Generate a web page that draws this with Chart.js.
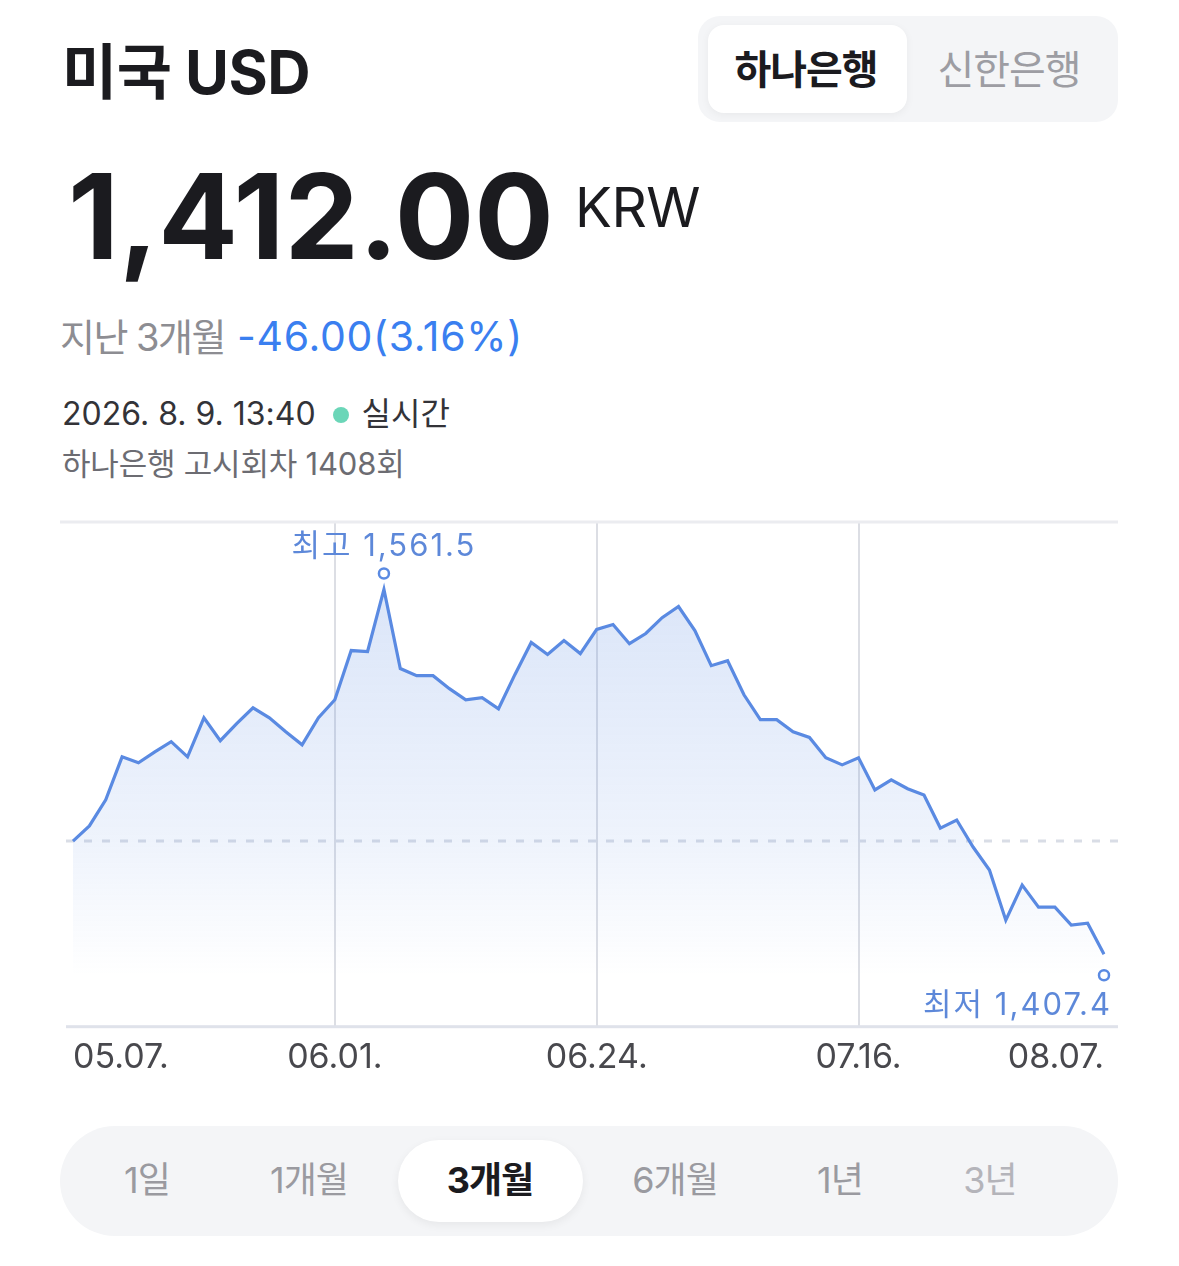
<!DOCTYPE html>
<html lang="ko">
<head>
<meta charset="utf-8">
<script src="https://cdn.jsdelivr.net/npm/chart.js@4.4.1/dist/chart.umd.min.js"></script>
<style>
  html, body { margin:0; padding:0; background:#fff; }
  body { width:1179px; height:1266px; position:relative; overflow:hidden;
         font-family: Inter, "Noto Sans CJK KR", "Noto Sans", sans-serif; }
  .abs { position:absolute; white-space:nowrap; }
  #title { left:62px; top:36px; font-size:60px; font-weight:700; color:#1b1b1f; letter-spacing:-0.5px; line-height:72px; }
  #price { left:68px; top:146px; font-size:118px; font-weight:700; color:#1b1b1f; letter-spacing:0px; line-height:140px; }
  #krw { left:575px; top:174px; font-size:55px; font-weight:400; color:#1b1b1f; letter-spacing:-0.5px; line-height:66px; }
  #change { left:60px; top:311px; line-height:50px; }
  #change .lbl { color:#8d8d92; font-size:38px; letter-spacing:-1.5px; }
  #change .val { color:#3a7ff0; margin-left:12px; font-size:41px; letter-spacing:0.7px; }
  #time { left:62px; top:393px; font-size:32px; line-height:42px; color:#333338; letter-spacing:0px; }
  #time .dot { display:inline-block; width:16px; height:16px; border-radius:50%; background:#6bd6b8; margin:0 13px 3px 17px; vertical-align:middle; }
  #notice { left:62px; top:444px; font-size:31px; line-height:40px; color:#6c6c72; letter-spacing:-0.2px; }
  #toggle { left:698px; top:16px; width:420px; height:106px; border-radius:22px; background:#f4f5f7; }
  #toggleSel { left:708px; top:25px; width:199px; height:88px; border-radius:16px; background:#fff; box-shadow:0 2px 8px rgba(0,0,0,0.05); }
  .tg { top:44px; font-size:40px; line-height:52px; letter-spacing:-1px; transform:translateX(-50%); }
  #chartBox { left:60px; top:500px; width:1058px; height:590px; }
  #tabs { left:60px; top:1126px; width:1058px; height:110px; border-radius:55px; background:#f4f5f7; }
  #tabSel { left:398px; top:1140px; width:185px; height:82px; border-radius:41px; background:#fff; box-shadow:0 3px 10px rgba(0,0,0,0.06); }
  .tab { top:1156px; font-size:36px; line-height:48px; color:#9a9aa0; transform:translateX(-50%); letter-spacing:-1px; }
</style>
</head>
<body>
<div class="abs" id="title">미국 USD</div>
<div class="abs" id="toggle"></div>
<div class="abs" id="toggleSel"></div>
<div class="abs tg" style="left:806px;font-weight:700;color:#1b1b1f;">하나은행</div>
<div class="abs tg" style="left:1009px;color:#9d9da3;">신한은행</div>

<div class="abs" id="price">1,412.00</div>
<div class="abs" id="krw">KRW</div>
<div class="abs" id="change"><span class="lbl">지난 3개월</span><span class="val">-46.00(3.16%)</span></div>
<div class="abs" id="time">2026. 8. 9. 13:40<span class="dot"></span>실시간</div>
<div class="abs" id="notice">하나은행 고시회차 1408회</div>

<div class="abs" id="chartBox"><canvas id="c"></canvas></div>

<div class="abs" id="tabs"></div>
<div class="abs" id="tabSel"></div>
<div class="abs tab" style="left:147px;">1일</div>
<div class="abs tab" style="left:309px;">1개월</div>
<div class="abs tab" style="left:490px;color:#1b1b1f;font-weight:700;">3개월</div>
<div class="abs tab" style="left:675px;">6개월</div>
<div class="abs tab" style="left:840px;">1년</div>
<div class="abs tab" style="left:990px;color:#b4b4ba;">3년</div>

<script>
// ---- data ----
const dates = [
  '05.07.','05.08.','05.11.','05.12.','05.13.','05.14.','05.15.','05.18.','05.19.','05.20.',
  '05.21.','05.22.','05.26.','05.27.','05.28.','05.29.','06.01.','06.02.','06.04.','06.05.',
  '06.08.','06.09.','06.10.','06.11.','06.12.','06.15.','06.16.','06.17.','06.18.','06.19.',
  '06.22.','06.23.','06.24.','06.25.','06.26.','06.29.','06.30.','07.01.','07.02.','07.03.',
  '07.06.','07.07.','07.08.','07.09.','07.10.','07.13.','07.14.','07.15.','07.16.','07.20.',
  '07.21.','07.22.','07.23.','07.24.','07.27.','07.28.','07.29.','07.30.','07.31.','08.03.',
  '08.04.','08.05.','08.06.','08.07.'
];
const rates = [
  1455.2,1461.6,1472.6,1490.8,1488.3,1492.9,1497.2,1490.8,1507.3,1497.6,
  1504.8,1511.5,1507.3,1501.4,1495.9,1507.3,1514.9,1535.7,1535.3,1561.5,
  1528.1,1525.1,1525.1,1519.6,1514.9,1515.8,1511.1,1525.5,1539.1,1534.0,
  1539.9,1534.4,1544.6,1546.7,1538.6,1542.9,1549.6,1554.3,1544.1,1529.3,
  1531.4,1517.0,1506.5,1506.5,1501.4,1499.0,1490.4,1487.4,1490.4,1476.8,
  1481.1,1477.3,1474.7,1460.7,1464.1,1452.7,1443.0,1421.8,1436.6,1427.3,
  1427.3,1419.7,1420.5,1407.4
];
const tickLabels = ['05.07.','06.01.','06.24.','07.16.','08.07.'];
const gridLabels = ['06.01.','06.24.','07.16.'];
const yMin = 1377;
const yMax = 1590;

const LINE = '#5a8ae2';
const LABEL = '#5d88d9';
const FONT = 'Inter, "Noto Sans CJK KR", sans-serif';

const fmt = v => v.toLocaleString('en-US', {minimumFractionDigits:1, maximumFractionDigits:1});

const decor = {
  id: 'decor',
  beforeDatasetsDraw(chart) {
    const c = chart.ctx, W = chart.width, ca = chart.chartArea, y = chart.scales.y;
    c.save();
    c.fillStyle = '#ebecf0';
    c.fillRect(0, ca.top - 1.5, W, 3);
    c.fillStyle = '#dfe2ea';
    c.fillRect(6, ca.bottom - 1, W - 6, 3);
    const yy = Math.round(y.getPixelForValue(rates[0]));
    c.strokeStyle = '#d9dde6';
    c.lineWidth = 3;
    c.setLineDash([8, 10]);
    c.beginPath(); c.moveTo(6, yy); c.lineTo(W, yy); c.stroke();
    c.restore();
  },
  afterDatasetsDraw(chart) {
    const c = chart.ctx, W = chart.width, xs = chart.scales.x, ys = chart.scales.y;
    let hi = 0, lo = 0;
    rates.forEach((v, i) => { if (v > rates[hi]) hi = i; if (v < rates[lo]) lo = i; });
    c.save();
    c.font = '31px ' + FONT;
    try { c.letterSpacing = '2px'; } catch (e) {}
    c.textBaseline = 'middle';
    const ring = (x, y) => {
      c.beginPath(); c.arc(x, y, 5, 0, Math.PI * 2);
      c.fillStyle = '#fff'; c.fill();
      c.lineWidth = 2.5; c.strokeStyle = LINE; c.stroke();
    };
    const place = (text, x, y) => {
      const w = c.measureText(text).width;
      let left = x - w / 2;
      if (left + w > W - 6) left = W - 6 - w;
      if (left < 2) left = 2;
      c.fillStyle = LABEL;
      c.textAlign = 'left';
      c.fillText(text, left, y);
    };
    const hx = xs.getPixelForValue(hi), hy = ys.getPixelForValue(rates[hi]);
    ring(hx, hy - 16);
    place('최고 ' + fmt(rates[hi]), hx, hy - 43);
    const lx = xs.getPixelForValue(lo), ly = ys.getPixelForValue(rates[lo]);
    ring(lx, ly + 21);
    place('최저 ' + fmt(rates[lo]), lx, ly + 51);
    c.restore();
  }
};

new Chart(document.getElementById('c'), {
  type: 'line',
  data: {
    labels: dates,
    datasets: [{
      data: rates,
      borderColor: LINE,
      borderWidth: 3.2,
      pointRadius: 0,
      tension: 0,
      fill: 'start',
      backgroundColor: (ctx) => {
        const ch = ctx.chart, ca = ch.chartArea;
        if (!ca) return 'rgba(91,139,226,0.1)';
        const g = ch.ctx.createLinearGradient(0, ca.top, 0, ca.bottom);
        g.addColorStop(0, 'rgba(91,139,226,0.25)');
        g.addColorStop(0.63, 'rgba(91,139,226,0.10)');
        g.addColorStop(0.9, 'rgba(91,139,226,0.0)');
        g.addColorStop(1, 'rgba(91,139,226,0.0)');
        return g;
      }
    }]
  },
  options: {
    responsive: true,
    maintainAspectRatio: false,
    animation: false,
    layout: { padding: { left: 13, right: 14, top: 22, bottom: 1 } },
    plugins: { legend: { display: false }, tooltip: { enabled: false } },
    scales: {
      x: {
        border: { display: false },
        grid: {
          drawTicks: false,
          lineWidth: 2,
          color: (ctx) => gridLabels.includes(dates[ctx.index]) ? '#dcdee4' : 'rgba(0,0,0,0)'
        },
        ticks: {
          autoSkip: false,
          maxRotation: 0,
          align: 'inner',
          padding: 11,
          color: '#48484d',
          font: { size: 34, family: FONT },
          callback: (val, i) => tickLabels.includes(dates[i]) ? dates[i] : ''
        }
      },
      y: { display: false, min: yMin, max: yMax }
    }
  },
  plugins: [decor]
});
</script>
</body>
</html>
